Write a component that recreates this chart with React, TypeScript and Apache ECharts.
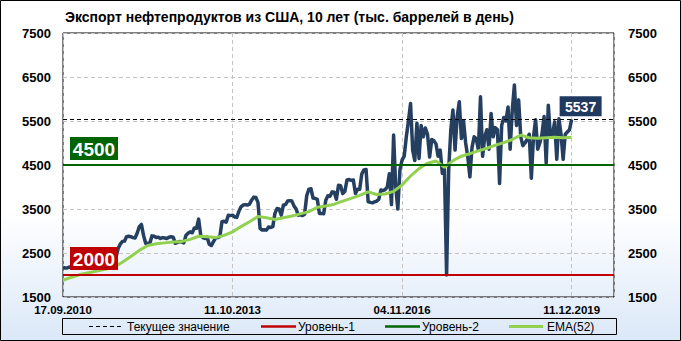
import React, { useEffect, useRef } from "react";
import * as echarts from "echarts";

const TITLE = "Экспорт нефтепродуктов из США, 10 лет (тыс. баррелей в день)";
const DATE_LABELS = ["17.09.2010", "11.10.2013", "04.11.2016", "11.12.2019"];
const WEEKS_PER_LABEL = 160;
const WEEKS_SPAN = 520;

// weekly-index step between consecutive values
const EXPORT_STEP = 2;
const EXPORTS = [
  2170, 2160, 2160, 2180, 2170, 2170, 2170, 2180, 2190, 2190,
  2200, 2180, 2200, 2230, 2210, 2250, 2230, 2270, 2250, 2290,
  2270, 2300, 2260, 2200, 2250, 2400, 2600, 2700, 2760, 2770,
  2870, 2880, 2870, 2850, 2840, 2950, 3100, 3150, 2900, 2720,
  2720, 2730, 2890, 2880, 2850, 2860, 2830, 2850, 2840, 2830,
  2860, 2870, 2860, 2720, 2740, 2760, 2750, 2730, 2900, 2950,
  2980, 2960, 3070, 3060, 3270, 2900, 2850, 2830, 2860, 2700,
  2670, 2760, 2840, 2850, 2870, 3210, 3220, 3200, 3360, 3350,
  3360, 3320, 3310, 3450, 3550, 3590, 3600, 3590, 3610, 3700,
  3770, 3760, 3650, 3060, 3020, 3030, 3020, 3090, 3080, 3100,
  3400, 3510, 3500, 3360, 3590, 3600, 3680, 3690, 3680, 3570,
  3500, 3360, 3370, 3350, 3380, 3800, 3950, 3960, 3750, 3740,
  3720, 3400, 3400, 3390, 3700, 3800, 3790, 3890, 3880, 3720,
  4040, 4030, 3850, 3900, 4160, 4170, 4150, 4160, 3850, 3950,
  3950, 4300, 4390, 4400, 3670, 3650, 3640, 3660, 3680, 3720,
  3930, 3920, 3940, 4000, 4300, 3600, 5180, 4000, 3500, 4400,
  4610, 4700, 5140, 5500, 5900, 4840, 4600, 5450, 4650, 5400,
  5140, 5340, 5200, 4680, 5080, 5050, 4980, 4700, 4840, 4310,
  4400, 2000, 4400, 5300, 5750, 4840, 5600, 5940, 5100, 5500,
  5000, 4680, 4230, 4900, 5140, 5100, 4840, 6050, 4700, 5140,
  5300, 4860, 5670, 5140, 5350, 5300, 4080, 5400, 5580, 5500,
  5820, 4860, 5750, 6320, 5400, 5980, 5140, 4940, 5000, 5080,
  5200, 4200, 5140, 5530, 4860, 5000, 5200, 5600, 4540, 5860,
  5140, 5200, 5480, 4630, 5550, 5200, 4630, 5200, 5250, 5300,
  5537,
];

const EMA_STEP = 8;
const EMA52 = [
  1880, 1950, 2010, 2050, 2090, 2130, 2180, 2290, 2420, 2560,
  2670, 2710, 2730, 2750, 2760, 2810, 2880, 2870, 2850, 2900,
  2980, 3100, 3210, 3330, 3300, 3260, 3300, 3340, 3390, 3440,
  3540, 3570, 3610, 3680, 3740, 3810, 3890, 3830, 3840, 3900,
  4045, 4250, 4420, 4540, 4590, 4450, 4600, 4700, 4760, 4820,
  4880, 4950, 5010, 5080, 5180, 5120, 5110, 5120, 5130, 5120,
  5130,
];

const LEVEL1 = 2000;
const LEVEL2 = 4500;
const CURRENT = 5537;
const Y_MIN = 1500;
const Y_MAX = 7500;
const Y_STEP = 1000;

const LEGEND_ITEMS = ["Текущее значение", "Уровень-1", "Уровень-2", "EMA(52)"];

const FONT = "'Liberation Sans', Arial, sans-serif";
const NAVY = "#243f60";
const RED = "#c00000";
const DKGREEN = "#006400";
const LTGREEN = "#92d050";

export default function App() {
  const ref = useRef<HTMLDivElement>(null);

  useEffect(() => {
    const chart = echarts.init(ref.current!, undefined, { renderer: "svg" });
    const gridLine = { color: "#c4c4c4", type: [4, 3] as any, width: 1 };
    const yLabel = {
      fontFamily: FONT, fontWeight: "bold" as const, fontSize: 13, color: "#000",
      formatter: (v: number) => String(v),
    };

    chart.setOption({
      animation: false,
      backgroundColor: {
        type: "linear", x: 0, y: 0, x2: 0, y2: 1,
        colorStops: [
          { offset: 0, color: "#ffffff" },
          { offset: 0.62, color: "#ffffff" },
          { offset: 1, color: "#dbe8f8" },
        ],
      },
      title: {
        text: TITLE, left: 65, top: 10, padding: 0,
        textStyle: { fontFamily: FONT, fontWeight: "bold", fontSize: 14, color: "#000" },
      },
      grid: { left: 63, right: 67, top: 33, bottom: 44, show: true, borderColor: "#000", borderWidth: 1 },
      xAxis: {
        type: "value", min: 0, max: WEEKS_SPAN, interval: WEEKS_PER_LABEL,
        axisLine: { show: false }, axisTick: { show: false },
        splitLine: { show: true, lineStyle: gridLine },
        axisLabel: {
          fontFamily: FONT, fontWeight: "bold", fontSize: 11.5, color: "#000", margin: 7,
          showMaxLabel: false,
          formatter: (v: number) => (v % WEEKS_PER_LABEL === 0 ? DATE_LABELS[v / WEEKS_PER_LABEL] ?? "" : ""),
        },
      },
      yAxis: [
        {
          type: "value", min: Y_MIN, max: Y_MAX, interval: Y_STEP, position: "left",
          axisLine: { show: false }, axisTick: { show: false },
          splitLine: { show: true, lineStyle: gridLine },
          axisLabel: { ...yLabel, margin: 12 },
        },
        {
          type: "value", min: Y_MIN, max: Y_MAX, interval: Y_STEP, position: "right",
          axisLine: { show: false }, axisTick: { show: false },
          splitLine: { show: false },
          axisLabel: { ...yLabel, margin: 14 },
        },
      ],
      series: [
        {
          type: "line", name: "exports", z: 2, symbol: "none",
          data: EXPORTS.map((v, i) => [i * EXPORT_STEP, v]),
          lineStyle: { color: NAVY, width: 3.5, join: "round" },
        },
        {
          type: "line", name: "ema", z: 3, symbol: "none",
          data: EMA52.map((v, i) => [i * EMA_STEP, v]),
          lineStyle: { color: LTGREEN, width: 3 },
        },
        {
          type: "line", name: "levels", z: 4, symbol: "none",
          data: [[0, LEVEL1]],
          lineStyle: { width: 0 },
          markLine: {
            silent: true, symbol: ["none", "none"], label: { show: false },
            data: [
              { yAxis: LEVEL1, lineStyle: { color: RED, width: 2, type: "solid" } },
              { yAxis: LEVEL2, lineStyle: { color: DKGREEN, width: 2, type: "solid" } },
              { yAxis: CURRENT, lineStyle: { color: "#000", width: 1, type: [4, 3] } },
            ],
          },
        },
      ],
    });

    const p1 = chart.convertToPixel({ gridIndex: 0 }, [0, LEVEL1]) as number[];
    const p2 = chart.convertToPixel({ gridIndex: 0 }, [0, LEVEL2]) as number[];
    const pc = chart.convertToPixel(
      { gridIndex: 0 },
      [(EXPORTS.length - 1) * EXPORT_STEP, CURRENT]
    ) as number[];

    const box = (x: number, y: number, w: number, h: number, fill: string, text: string, font: string) => [
      { type: "rect", z: 50, shape: { x, y, width: w, height: h }, style: { fill } },
      {
        type: "text", z: 51,
        style: { text, x: x + w / 2, y: y + h / 2 + 0.5, align: "center", verticalAlign: "middle", fill: "#fff", font },
      },
    ];

    const legendY = 326.5;
    const legText = (x: number, text: string) => ({
      type: "text", z: 50,
      style: { text, x, y: legendY, verticalAlign: "middle", fill: "#000", font: `12px ${FONT}` },
    });
    const legLine = (x1: number, x2: number, stroke: string, lineWidth: number, dash?: number[]) => ({
      type: "line", z: 50,
      shape: { x1, y1: legendY, x2, y2: legendY },
      style: { stroke, lineWidth, lineDash: dash },
    });

    chart.setOption({
      graphic: [
        ...box(p1[0] + 7, p1[1] - 28, 48, 23, RED, String(LEVEL1), `bold 19px ${FONT}`),
        ...box(p2[0] + 7, p2[1] - 28, 48, 23, DKGREEN, String(LEVEL2), `bold 19px ${FONT}`),
        ...box(pc[0] - 12, pc[1] - 23, 42, 20, "#1f3960", String(CURRENT), `bold 14px ${FONT}`),
        {
          type: "rect", z: 50, shape: { x: 62.5, y: 318.5, width: 554, height: 16 },
          style: { fill: "none", stroke: "#000", lineWidth: 1 },
        },
        legLine(89, 122, "#000", 1, [4, 3]),
        legText(127, LEGEND_ITEMS[0]),
        legLine(261, 296, RED, 2.5),
        legText(298, LEGEND_ITEMS[1]),
        legLine(385, 420, DKGREEN, 2.5),
        legText(422, LEGEND_ITEMS[2]),
        legLine(509, 543, LTGREEN, 3),
        legText(547, LEGEND_ITEMS[3]),
        {
          type: "rect", z: 60, shape: { x: 0.5, y: 0.5, width: 680, height: 340 },
          style: { fill: "none", stroke: "#000", lineWidth: 1 },
        },
      ],
    });

    return () => chart.dispose();
  }, []);

  return <div ref={ref} style={{ position: "fixed", left: 0, top: 0, width: 681, height: 341 }} />;
}
